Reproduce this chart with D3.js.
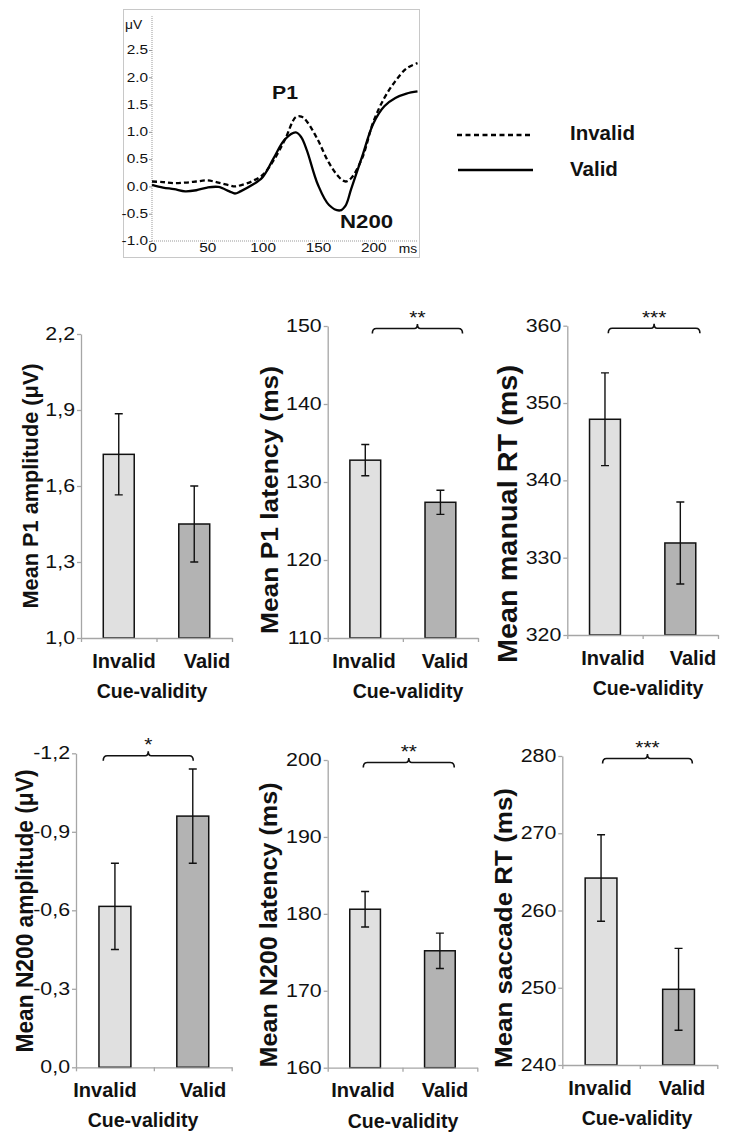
<!DOCTYPE html>
<html>
<head>
<meta charset="utf-8">
<script src="https://cdn.jsdelivr.net/npm/d3@7"></script>
<style>
  body { margin: 0; background: #fff; }
  text { font-family: "Liberation Sans", Arial, sans-serif; fill: #111; }
</style>
</head>
<body>
<div id="chart"></div>
<script>
// ---- ERP waveform data (ms, microvolts) ----
const erpTimes   = [0, 10, 20, 30, 40, 50, 60, 70, 75, 80, 90, 100, 110, 120, 130, 135, 140, 150, 160, 170, 175, 180, 190, 200, 210, 220, 230, 240];
const erpValid   = [0.03, -0.02, -0.05, -0.09, -0.07, -0.02, -0.01, -0.09, -0.13, -0.09, 0.02, 0.17, 0.52, 0.86, 0.99, 0.90, 0.66, 0.03, -0.34, -0.44, -0.35, -0.05, 0.55, 1.15, 1.47, 1.62, 1.70, 1.74];
const erpInvalid = [0.09, 0.08, 0.06, 0.07, 0.09, 0.11, 0.07, 0.02, 0.00, 0.02, 0.09, 0.21, 0.48, 0.85, 1.27, 1.28, 1.19, 0.85, 0.43, 0.15, 0.09, 0.15, 0.52, 1.18, 1.62, 1.93, 2.16, 2.26];
const erpYTicks  = [-1.0, -0.5, 0.0, 0.5, 1.0, 1.5, 2.0, 2.5];
const erpXTicks  = [0, 50, 100, 150, 200];

// ---- bar chart data ----
const categories = ["Invalid", "Valid"];

const p1Amplitude    = [1.725, 1.45];
const p1AmplitudeErr = [0.16, 0.15];
const p1AmplitudeTicks = [1.0, 1.3, 1.6, 1.9, 2.2];

const p1Latency    = [132.8, 127.4];
const p1LatencyErr = [2.0, 1.55];
const p1LatencyTicks = [110, 120, 130, 140, 150];

const manualRT    = [347.9, 331.9];
const manualRTErr = [6.0, 5.3];
const manualRTTicks = [320, 330, 340, 350, 360];

const n200Amplitude    = [-0.615, -0.96];
const n200AmplitudeErr = [0.165, 0.18];
const n200AmplitudeTicks = [0.0, -0.3, -0.6, -0.9, -1.2];

const n200Latency    = [180.6, 175.2];
const n200LatencyErr = [2.3, 2.3];
const n200LatencyTicks = [160, 170, 180, 190, 200];

const saccadeRT    = [264.2, 249.8];
const saccadeRTErr = [5.6, 5.3];
const saccadeRTTicks = [240, 250, 260, 270, 280];

const significance = ["", "**", "***", "*", "**", "***"];

const commaFmt = v => v.toFixed(1).replace(".", ",");
const intFmt = v => String(v);

const svg = d3.select("#chart").append("svg")
  .attr("width", 734)
  .attr("height", 1133);

// stretch text horizontally (source figure fonts are wider than Arial)
function stretch(sel, k) {
  sel.each(function() {
    const w = this.getComputedTextLength();
    d3.select(this).attr("textLength", w * k).attr("lengthAdjust", "spacingAndGlyphs");
  });
}

// ================= ERP plot =================
const erp = svg.append("g");

erp.append("rect")
  .attr("x", 123.5).attr("y", 9.5)
  .attr("width", 296).attr("height", 248)
  .attr("fill", "none")
  .attr("stroke", "#c8c8c8");

const ex = d3.scaleLinear().domain([0, 240]).range([152, 417.5]);
const ey = d3.scaleLinear().domain([-1, 2.5]).range([241, 50]);

// axes (dotted look)
erp.append("line")
  .attr("x1", ex(0)).attr("x2", ex(0))
  .attr("y1", ey(-1)).attr("y2", ey(3.12))
  .attr("stroke", "#999").attr("stroke-dasharray", "1,1");
erp.append("line")
  .attr("x1", ex(0)).attr("x2", ex(240))
  .attr("y1", ey(-1)).attr("y2", ey(-1))
  .attr("stroke", "#999").attr("stroke-dasharray", "1,1");

const eyAxis = erp.append("g")
  .attr("transform", "translate(" + ex(0) + ",0)")
  .call(d3.axisLeft(ey).tickValues(erpYTicks).tickSize(3).tickPadding(1).tickFormat(v => v.toFixed(1)));
eyAxis.select(".domain").remove();
eyAxis.selectAll("line").attr("stroke", "#999");
eyAxis.selectAll("text").attr("font-size", 12).attr("font-family", null).attr("fill", "#222");
stretch(eyAxis.selectAll("text"), 1.28);

const exAxis = erp.append("g")
  .attr("transform", "translate(0," + ey(-1) + ")")
  .call(d3.axisBottom(ex).tickValues(erpXTicks).tickSize(0).tickPadding(2));
exAxis.select(".domain").remove();
exAxis.selectAll("text").attr("font-size", 12).attr("font-family", null).attr("fill", "#222");
stretch(exAxis.selectAll("text"), 1.28);

const unitV = erp.append("text").attr("x", 125).attr("y", 29).attr("font-size", 12).attr("fill", "#222").text("μV");
stretch(unitV, 1.15);
const unitMs = erp.append("text").attr("x", 408).attr("y", 253).attr("text-anchor", "middle").attr("font-size", 12).attr("fill", "#222").text("ms");
stretch(unitMs, 1.15);

const erpLine = d3.line()
  .x((d, i) => ex(erpTimes[i]))
  .y(d => ey(d))
  .curve(d3.curveCatmullRom);

erp.append("path")
  .attr("d", erpLine(erpInvalid))
  .attr("fill", "none").attr("stroke", "#000")
  .attr("stroke-width", 2.3).attr("stroke-dasharray", "5,3");
erp.append("path")
  .attr("d", erpLine(erpValid))
  .attr("fill", "none").attr("stroke", "#000")
  .attr("stroke-width", 2.3);

const p1Label = erp.append("text").attr("x", 285).attr("y", 98.5).attr("text-anchor", "middle")
  .attr("font-size", 18).attr("font-weight", "bold").text("P1");
stretch(p1Label, 1.18);
const n200Label = erp.append("text").attr("x", 340).attr("y", 228)
  .attr("font-size", 18.5).attr("font-weight", "bold").text("N200");
stretch(n200Label, 1.2);

// legend
svg.append("line").attr("x1", 457).attr("x2", 533).attr("y1", 135).attr("y2", 135)
  .attr("stroke", "#000").attr("stroke-width", 2.3).attr("stroke-dasharray", "5,3.5");
svg.append("line").attr("x1", 458).attr("x2", 533).attr("y1", 170).attr("y2", 170)
  .attr("stroke", "#000").attr("stroke-width", 2.3);
svg.append("text").attr("x", 570).attr("y", 139.5).attr("font-size", 20.5).attr("font-weight", "bold").text("Invalid");
svg.append("text").attr("x", 570).attr("y", 175.5).attr("font-size", 20.5).attr("font-weight", "bold").text("Valid");

// ================= bar panels =================
const PANELS = [
  { values: p1Amplitude, errors: p1AmplitudeErr, ticks: p1AmplitudeTicks, fmt: commaFmt,
    title: "Mean P1 amplitude (μV)", x0: 81, x1: 232, yTop: 334, yBot: 638,
    titleX: 38, titleY: 486, titleSize: 22, titleLen: 245,
    labelX: [124, 207], cueX: 152, bracket: null },
  { values: p1Latency, errors: p1LatencyErr, ticks: p1LatencyTicks, fmt: intFmt,
    title: "Mean P1 latency (ms)", x0: 327.7, x1: 478, yTop: 326, yBot: 638,
    titleX: 278, titleY: 500, titleSize: 24.5, titleLen: 268,
    labelX: [364, 445], cueX: 408, bracket: [0.297, 0.897] },
  { values: manualRT, errors: manualRTErr, ticks: manualRTTicks, fmt: intFmt,
    title: "Mean manual RT (ms)", x0: 567.3, x1: 718, yTop: 325.7, yBot: 635,
    titleX: 516.5, titleY: 514, titleSize: 28, titleLen: 298,
    labelX: [613, 693], cueX: 648, bracket: [0.272, 0.88] },
  { values: n200Amplitude, errors: n200AmplitudeErr, ticks: n200AmplitudeTicks, fmt: commaFmt,
    title: "Mean N200 amplitude (μV)", x0: 76, x1: 231.7, yTop: 753.3, yBot: 1067.3,
    titleX: 33, titleY: 911, titleSize: 23, titleLen: 283,
    labelX: [105, 203], cueX: 143, bracket: [0.175, 0.753] },
  { values: n200Latency, errors: n200LatencyErr, ticks: n200LatencyTicks, fmt: intFmt,
    title: "Mean N200 latency (ms)", x0: 327.7, x1: 477.3, yTop: 760, yBot: 1067.7,
    titleX: 277, titleY: 925, titleSize: 24, titleLen: 285,
    labelX: [363, 445], cueX: 403, bracket: [0.238, 0.846] },
  { values: saccadeRT, errors: saccadeRTErr, ticks: saccadeRTTicks, fmt: intFmt,
    title: "Mean saccade RT (ms)", x0: 562.3, x1: 717.3, yTop: 756, yBot: 1065,
    titleX: 511.5, titleY: 928, titleSize: 24.5, titleLen: 280,
    labelX: [600, 682], cueX: 637, bracket: [0.26, 0.839] }
];

const BAR_FILLS = ["#e0e0e0", "#b3b3b3"];
const AXIS_GRAY = "#a6a6a6";

function bracketPath(xl, xr, y) {
  const m = (xl + xr) / 2;
  return "M" + xl + "," + (y + 5) +
    " Q" + xl + "," + y + " " + (xl + 4) + "," + y +
    " L" + (m - 3) + "," + y +
    " Q" + m + "," + y + " " + m + "," + (y - 4.5) +
    " Q" + m + "," + y + " " + (m + 3) + "," + y +
    " L" + (xr - 4) + "," + y +
    " Q" + xr + "," + y + " " + xr + "," + (y + 5);
}

PANELS.forEach(function(p, idx) {
  const g = svg.append("g");

  const x = d3.scaleBand().domain(categories).range([p.x0, p.x1])
    .paddingInner(0.59).paddingOuter(0.295);
  const y = d3.scaleLinear().domain([p.ticks[0], p.ticks[p.ticks.length - 1]]).range([p.yBot, p.yTop]);
  const base = p.ticks[0];

  // bars
  g.selectAll(".bar")
    .data(p.values)
    .enter().append("rect")
    .attr("class", "bar")
    .attr("x", (d, i) => x(categories[i]))
    .attr("width", x.bandwidth())
    .attr("y", d => Math.min(y(d), y(base)))
    .attr("height", d => Math.abs(y(base) - y(d)))
    .attr("fill", (d, i) => BAR_FILLS[i])
    .attr("stroke", "#111")
    .attr("stroke-width", 1.5);

  // error bars
  const cx = i => x(categories[i]) + x.bandwidth() / 2;
  g.selectAll(".err")
    .data(p.values)
    .enter().append("path")
    .attr("class", "err")
    .attr("d", (d, i) => {
      const hi = y(d + p.errors[i] * Math.sign(d)), lo = y(d - p.errors[i] * Math.sign(d));
      return "M" + cx(i) + "," + hi + " L" + cx(i) + "," + lo +
        " M" + (cx(i) - 4) + "," + hi + " L" + (cx(i) + 4) + "," + hi +
        " M" + (cx(i) - 4) + "," + lo + " L" + (cx(i) + 4) + "," + lo;
    })
    .attr("fill", "none")
    .attr("stroke", "#111")
    .attr("stroke-width", 1.4);

  // y axis
  const yAxis = g.append("g")
    .attr("transform", "translate(" + p.x0 + ",0)")
    .call(d3.axisLeft(y).tickValues(p.ticks).tickSize(4).tickSizeOuter(0).tickPadding(2).tickFormat(p.fmt));
  yAxis.select(".domain").attr("stroke", AXIS_GRAY).attr("stroke-width", 1.3);
  yAxis.selectAll("line").attr("stroke", AXIS_GRAY).attr("stroke-width", 1.3);
  yAxis.selectAll("text").attr("font-size", 17.5).attr("font-family", null).attr("fill", "#111");
  stretch(yAxis.selectAll("text"), 1.22);

  // x axis: ticks at edges and middle
  const xb = d3.scaleLinear().domain([0, 2]).range([p.x0, p.x1]);
  const xAxis = g.append("g")
    .attr("transform", "translate(0," + p.yBot + ")")
    .call(d3.axisBottom(xb).tickValues([0, 1, 2]).tickSize(4).tickSizeOuter(0).tickFormat(""));
  xAxis.select(".domain").attr("stroke", AXIS_GRAY).attr("stroke-width", 1.3);
  xAxis.selectAll("line").attr("stroke", AXIS_GRAY).attr("stroke-width", 1.3);

  // category labels
  g.selectAll(".cat")
    .data(categories)
    .enter().append("text")
    .attr("class", "cat")
    .attr("x", (d, i) => p.labelX[i])
    .attr("y", p.yBot + 29.5)
    .attr("text-anchor", "middle")
    .attr("font-size", 20)
    .attr("font-weight", "bold")
    .text(d => d);

  g.append("text")
    .attr("x", p.cueX)
    .attr("y", p.yBot + 60)
    .attr("text-anchor", "middle")
    .attr("font-size", 19.5)
    .attr("font-weight", "bold")
    .text("Cue-validity");

  // y title
  g.append("text")
    .attr("transform", "translate(" + p.titleX + "," + p.titleY + ") rotate(-90)")
    .attr("text-anchor", "middle")
    .attr("font-size", p.titleSize)
    .attr("font-weight", "bold")
    .attr("textLength", p.titleLen)
    .attr("lengthAdjust", "spacingAndGlyphs")
    .text(p.title);

  // significance bracket
  if (p.bracket) {
    const w = p.x1 - p.x0;
    const xl = p.x0 + w * p.bracket[0], xr = p.x0 + w * p.bracket[1];
    const by = p.yTop + 2.5;
    g.append("path")
      .attr("d", bracketPath(xl, xr, by))
      .attr("fill", "none")
      .attr("stroke", "#111")
      .attr("stroke-width", 1.6);
    const star = g.append("text")
      .attr("x", (xl + xr) / 2)
      .attr("y", by - 4.5)
      .attr("text-anchor", "middle")
      .attr("font-size", 19)
      .text(significance[idx]);
    stretch(star, 1.1);
  }
});
</script>
</body>
</html>
